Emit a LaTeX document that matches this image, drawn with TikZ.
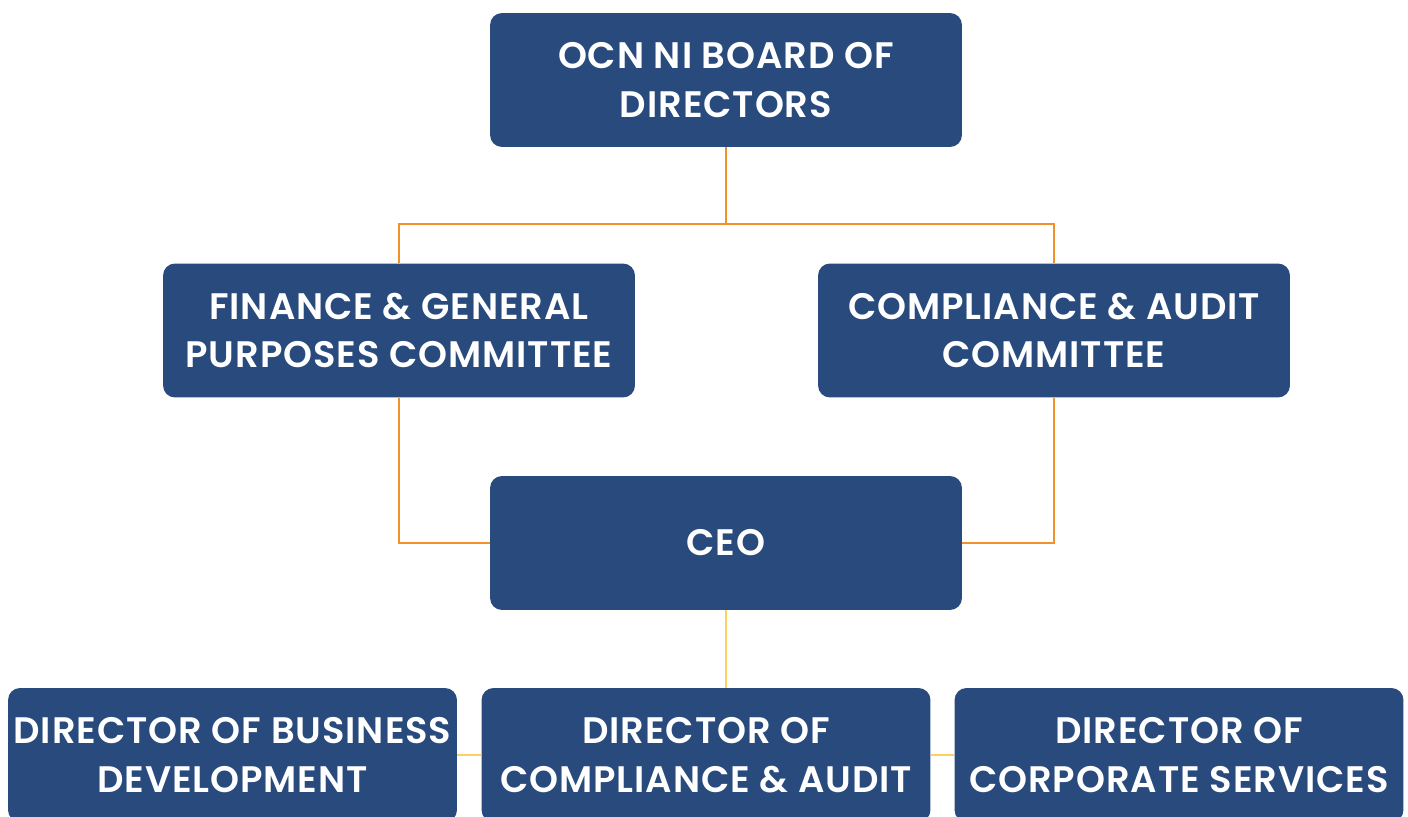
\documentclass[tikz,border=0pt]{standalone}
\usepackage{fontspec}
\newfontfamily\boxfont{Poppins SemiBold}[LetterSpace=2.5]
\definecolor{boxblue}{RGB}{40,74,124}
\definecolor{linkorange}{RGB}{240,146,43}
\definecolor{linkyellow}{RGB}{255,207,95}
\begin{document}
\begin{tikzpicture}[x=0.02cm, y=-0.02cm,
	unit/.style={rectangle, rounded corners=0.24cm, fill=boxblue, text=white,
		minimum width=9.44cm, minimum height=2.68cm, align=center, inner sep=0pt,
		font=\boxfont\fontsize{21}{27.5}\selectfont},
	staff/.style={unit, minimum width=8.98cm},
	upper/.style={draw=linkorange, line width=1.2pt},
	lower/.style={draw=linkyellow, line width=1.2pt}]
	\useasboundingbox (0,0) rectangle (1408,817);
	\begin{scope}
		\clip (0,0) rectangle (1408,817);
		\coordinate (split) at (726,224);
		\node[unit] (board) at (726,80) {OCN NI BOARD OF\\DIRECTORS};
		\node[unit] (fin) at (399,330.5) {FINANCE \& GENERAL\\PURPOSES COMMITTEE};
		\node[unit] (comp) at (1054,330.5) {COMPLIANCE \& AUDIT\\COMMITTEE};
		\node[unit] (ceo) at (726,543) {CEO};
		\node[staff] (dbd) at (232.5,755) {DIRECTOR OF BUSINESS\\DEVELOPMENT};
		\node[staff] (dca) at (706,755) {DIRECTOR OF\\COMPLIANCE \& AUDIT};
		\node[staff] (dcs) at (1179,755) {DIRECTOR OF\\CORPORATE SERVICES};
		% board to committees to CEO
		\draw[upper] (board.south) -- (split);
		\draw[upper] (split) -| (fin.north);
		\draw[upper] (split) -| (comp.north);
		\draw[upper] (fin.south) |- (ceo.west);
		\draw[upper] (comp.south) |- (ceo.east);
		% CEO to directors
		\draw[lower] (ceo.south) -- (ceo.south |- dca.north);
		\draw[lower] (dbd.east) -- (dca.west);
		\draw[lower] (dca.east) -- (dcs.west);
	\end{scope}
\end{tikzpicture}
\end{document}
